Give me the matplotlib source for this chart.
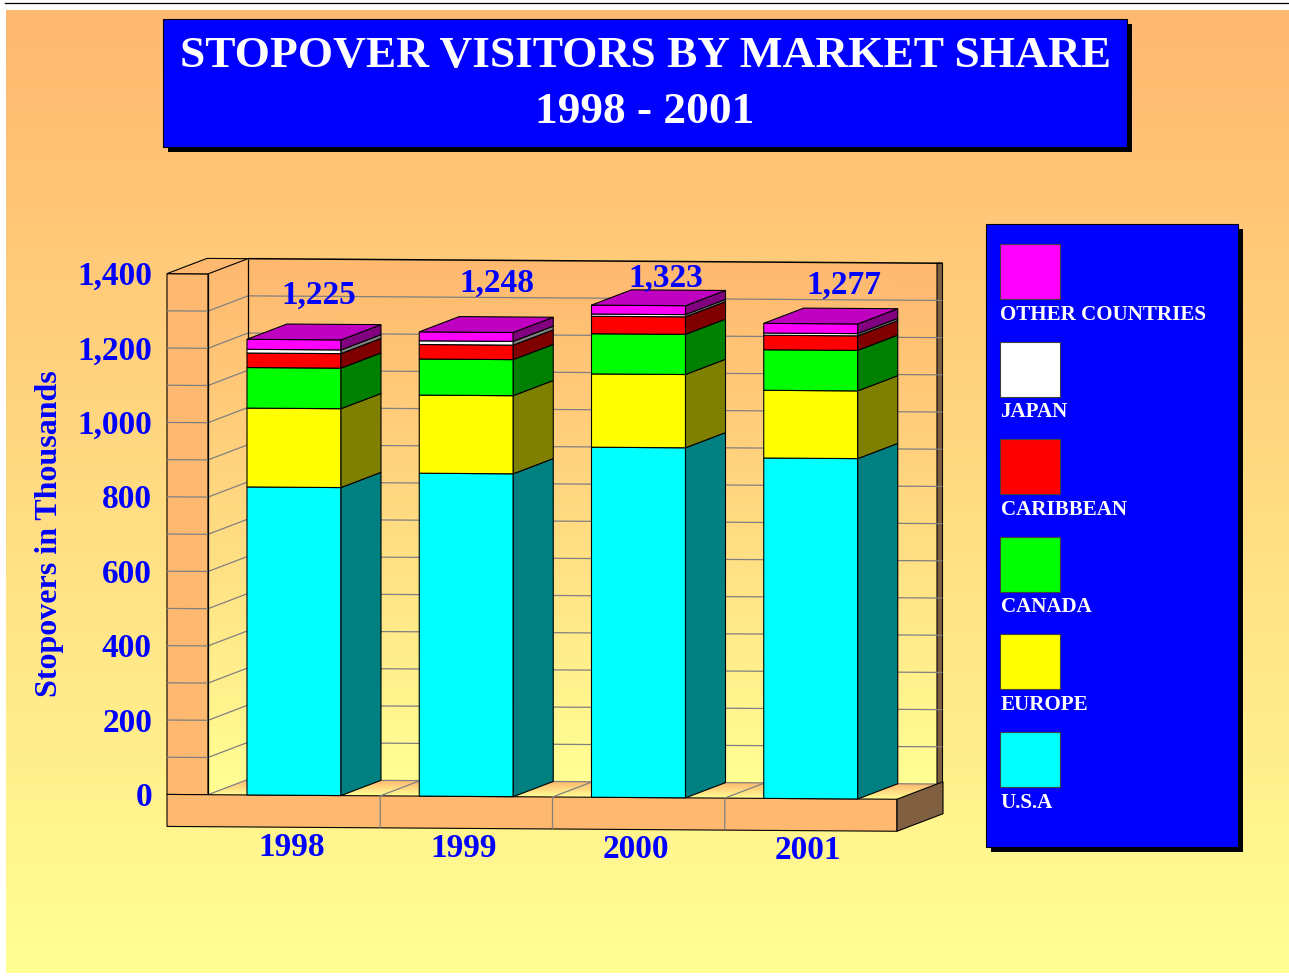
import numpy as np
import matplotlib
matplotlib.use('Agg')
import matplotlib.pyplot as plt
from matplotlib.patches import Polygon, Rectangle
from matplotlib.transforms import Affine2D

years = ['1998', '1999', '2000', '2001']
totals = ['1,225', '1,248', '1,323', '1,277']
usa = [828, 868, 941, 915]
europe = [212, 210, 197, 182]
canada = [109, 97, 108, 109]
caribbean = [39, 39, 47, 39]
japan = [10, 10, 6, 6]
other = [27, 24, 24, 26]
y_ticks = [0, 200, 400, 600, 800, 1000, 1200, 1400]

series = [usa, europe, canada, caribbean, japan, other]
names = ['U.S.A', 'EUROPE', 'CANADA', 'CARIBBEAN', 'JAPAN', 'OTHER COUNTRIES']
front_cols = ['#00ffff', '#ffff00', '#00ff00', '#ff0000', '#ffffff', '#ff00ff']
side_cols = ['#008080', '#808000', '#008000', '#800000', '#808080', '#800080']
top_col = '#c000c0'

# where the hand placed total labels sit relative to the bar top, in pixels
label_offsets = [(25, 45), (31, 50), (27, 28), (33, 39)]

W, H = 1289, 978
ORANGE = '#ffb870'
PALE = '#ffff94'
BROWN = '#806040'
GRID = '#808080'
SERIF = 'Liberation Serif'

# chart scale, pixels
PX_X = 689 / 4
PX_V = 37.2 / 100
SKEW = 0.0066
DEPTH_X = 40 / PX_X
DEPTH_V = 15.5 / PX_V
WALL = 41 / PX_X
SLAB = 32 / PX_V
BAR_L = 39 / PX_X
BAR_W = 94 / PX_X
SLAB_D = 1.15


def pt(x, v, d=0):
  # d = 0 is the front plane, d = 1 the back wall
  return (x + d * DEPTH_X, v + d * DEPTH_V)


def gradient(ax, tr, poly, extent, c_top, c_bot):
  c0 = np.array(matplotlib.colors.to_rgb(c_top))
  c1 = np.array(matplotlib.colors.to_rgb(c_bot))
  t = np.linspace(0, 1, 256)[:, None, None]
  img = (c0 * (1 - t) + c1 * t)
  xlim, ylim = ax.get_xlim(), ax.get_ylim()
  im = ax.imshow(img, extent=extent, aspect='auto', transform=tr, zorder=1, interpolation='bilinear')
  patch = Polygon(poly, closed=True, transform=tr, fc='none', ec='none')
  ax.add_patch(patch)
  # images fall back on the axes box otherwise, and the walls reach past it
  im.set_clip_box(ax.figure.bbox)
  im.set_clip_path(patch)
  ax.set_xlim(xlim)
  ax.set_ylim(ylim)


def face(ax, tr, pts, fc, ec='black', lw=0.8, z=2):
  ax.add_patch(Polygon(pts, closed=True, transform=tr, fc=fc, ec=ec, lw=lw, zorder=z, clip_on=False))


def line(ax, tr, pts, color=GRID, lw=0.9, z=2):
  xs, ys = zip(*pts)
  ax.plot(xs, ys, color=color, lw=lw, transform=tr, zorder=z, clip_on=False, solid_capstyle='butt')


def main():
  fig = plt.figure(figsize=(W / 100, H / 100), dpi=100, facecolor='white')

  # page layer, pixel coordinates
  bg = fig.add_axes([0, 0, 1, 1])
  bg.set_xlim(0, W)
  bg.set_ylim(H, 0)
  bg.axis('off')
  t = np.linspace(0, 1, 256)[:, None, None]
  c0 = np.array(matplotlib.colors.to_rgb(ORANGE))
  c1 = np.array(matplotlib.colors.to_rgb(PALE))
  bg.imshow(c0 * (1 - t) + c1 * t, extent=(6, W, 974, 11), aspect='auto', zorder=0)
  bg.set_xlim(0, W)
  bg.set_ylim(H, 0)
  bg.plot([5, W], [3.5, 3.5], color='black', lw=0.9)

  # title
  bg.add_patch(Rectangle((168, 25), 964, 128, fc='black', ec='none', zorder=1))
  bg.add_patch(Rectangle((163, 20), 964, 128, fc='#0000ff', ec='black', lw=0.8, zorder=2))
  bg.text(645, 56, 'STOPOVER VISITORS BY MARKET SHARE', color='white', family=SERIF, weight='bold',
          fontsize=32.7, ha='center', va='center', zorder=3)
  bg.text(645, 112, '1998 - 2001', color='white', family=SERIF, weight='bold',
          fontsize=32.7, ha='center', va='center', zorder=3)

  # legend
  bg.add_patch(Rectangle((990.5, 230), 252, 623, fc='black', ec='none', zorder=1))
  bg.add_patch(Rectangle((985.5, 225), 252, 623, fc='#0000ff', ec='black', lw=0.8, zorder=2))
  for i in range(len(names)):
    y0 = 733 - i * 97.6
    bg.add_patch(Rectangle((1000, y0), 60, 55, fc=front_cols[i], ec='#404040', lw=0.8, zorder=3))
    bg.text(1000.5, y0 + 69.5, names[i], color='white', family=SERIF, weight='bold', fontsize=15.15,
            ha='left', va='center', zorder=3)

  # chart layer, x in categories and y in stopovers
  ax = fig.add_axes([208 / W, (H - 795.7) / H, 689 / W, 520.8 / H])
  ax.set_xlim(0, 4)
  ax.set_ylim(0, 1400)
  ax.axis('off')
  ax.patch.set_alpha(0)
  tr = ax.transData + Affine2D.from_values(1, -SKEW, 0, 1, 0, SKEW * 208)

  # walls
  back = [pt(0, 0, 1), pt(4, 0, 1), pt(4, 1400, 1), pt(0, 1400, 1)]
  gradient(ax, tr, back, (0, 4.5, 0 + DEPTH_V, 1400 + DEPTH_V), ORANGE, PALE)
  left = [pt(0, 0), pt(0, 0, 1), pt(0, 1400, 1), pt(0, 1400)]
  gradient(ax, tr, left, (0, DEPTH_X, 0, 1400 + DEPTH_V), ORANGE, PALE)
  floor = [pt(0, 0), pt(4, 0), pt(4, 0, 1), pt(0, 0, 1)]
  gradient(ax, tr, floor, (0, 4.5, 0, DEPTH_V), ORANGE, PALE)
  line(ax, tr, [pt(0, 0), pt(0, 0, 1), pt(4, 0, 1)], color=GRID)

  # left column of the wall, and its top
  face(ax, tr, [(-WALL, 0), (0, 0), (0, 1400), (-WALL, 1400)], ORANGE, z=1.5)
  face(ax, tr, [(-WALL, 1400), (0, 1400), pt(0, 1400, 1), pt(-WALL, 1400, 1)], ORANGE, z=1.5)
  # brown strip at the right of the back wall
  strip = 5.5 / PX_X
  face(ax, tr, [pt(4, 0, 1), pt(4 + strip, 0, 1), pt(4 + strip, 1400, 1), pt(4, 1400, 1)], BROWN, z=1.5)

  for v in range(100, 1400, 100):
    line(ax, tr, [(-WALL, v), (0, v), pt(0, v, 1), pt(4 + strip, v, 1)])
  line(ax, tr, [pt(0, 1400, 1), pt(4 + strip, 1400, 1)], color='black', lw=1.1, z=2.1)
  line(ax, tr, [pt(0, 0), pt(0, 1400)], color='black', z=2.1)
  line(ax, tr, [pt(0, 0, 1), pt(0, 1400, 1)], color='black', z=2.1)

  # front slab
  face(ax, tr, [(-WALL, -SLAB), (4, -SLAB), (4, 0), (-WALL, 0)], ORANGE, z=2.2)
  face(ax, tr, [(4, -SLAB), pt(4, -SLAB, SLAB_D), pt(4, 0, SLAB_D), (4, 0)], BROWN, z=2.2)
  for i in range(1, 4):
    line(ax, tr, [(i, -SLAB), (i, 0), pt(i, 0, 1)], z=2.3)

  # bars
  for i in range(len(years)):
    x0 = i + BAR_L
    x1 = x0 + BAR_W
    v = 0
    for s in range(len(series)):
      top = v + series[s][i]
      face(ax, tr, [(x0, v), (x1, v), (x1, top), (x0, top)], front_cols[s], z=3)
      face(ax, tr, [(x1, v), pt(x1, v, 1), pt(x1, top, 1), (x1, top)], side_cols[s], z=3)
      v = top
    face(ax, tr, [(x0, v), (x1, v), pt(x1, v, 1), pt(x0, v, 1)], top_col, z=3)

    ax.annotate(totals[i], xy=((x0 + x1) / 2, v), xycoords=tr, xytext=label_offsets[i],
                textcoords='offset pixels', color='#0000ff', family=SERIF, weight='bold',
                fontsize=24, ha='center', va='center', zorder=4, annotation_clip=False)
    ax.text((x0 + x1) / 2 - 2.5 / PX_X, -137, years[i], transform=tr, color='#0000ff', family=SERIF,
            weight='bold', fontsize=24, ha='center', va='center', zorder=4, clip_on=False)

  for v in y_ticks:
    ax.text(-WALL - 15 / PX_X, v - 6, format(v, ','), transform=tr, color='#0000ff', family=SERIF,
            weight='bold', fontsize=24, ha='right', va='center', zorder=4, clip_on=False)

  bg.text(50, 534, 'Stopovers in Thousands', color='#0000ff', family=SERIF, weight='bold', fontsize=23,
          rotation=90, ha='center', va='center', zorder=4)

  fig.savefig('out.png', dpi=100, facecolor='white')


if __name__ == '__main__':
  main()
